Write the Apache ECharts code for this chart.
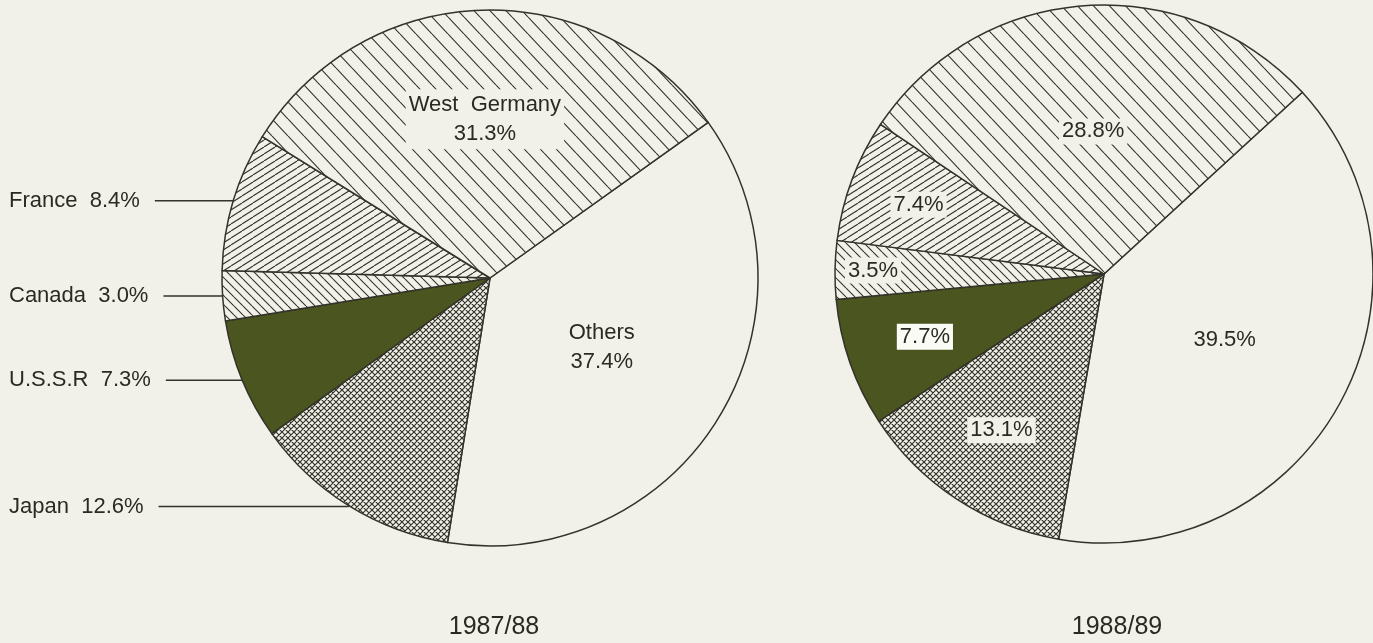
<!DOCTYPE html>
<html>
<head>
<meta charset="utf-8">
<title>Shares 1987/88 and 1988/89</title>
<script src="https://cdn.jsdelivr.net/npm/echarts@6/dist/echarts.min.js"></script>
<style>
  html, body { margin: 0; padding: 0; background: #f1f1ea; }
  #main { width: 1373px; height: 643px; }
</style>
</head>
<body>
<div id="main"></div>
<script>
// slices go clockwise from the Others / West Germany border
var categories = ['Others', 'Japan', 'U.S.S.R', 'Canada', 'France', 'West Germany'];
var share8788 = [37.4, 12.6, 7.3, 3.0, 8.4, 31.3];
var share8889 = [39.5, 13.1, 7.7, 3.5, 7.4, 28.8];
var yearLabels = ['1987/88', '1988/89'];

var BG = '#f1f1ea';
var INK = '#333329';
var TEXT = '#2a2a22';
var OLIVE = '#4a5520';
var FONT = '"Liberation Sans", Arial, sans-serif';

// small tiles for the hatching
function hatch(w, h, kind, lw) {
  var c = document.createElement('canvas');
  c.width = w;
  c.height = h;
  var ctx = c.getContext('2d');
  ctx.fillStyle = BG;
  ctx.fillRect(0, 0, w, h);
  ctx.strokeStyle = INK;
  ctx.lineWidth = lw || 1;
  ctx.beginPath();
  for (var k = -1; k <= 1; k++) {
    if (kind === 'back' || kind === 'cross') {
      ctx.moveTo(k * w, 0);
      ctx.lineTo(k * w + w, h);
    }
    if (kind === 'fwd' || kind === 'cross') {
      ctx.moveTo(k * w, h);
      ctx.lineTo(k * w + w, 0);
    }
  }
  ctx.stroke();
  return { image: c, repeat: 'repeat' };
}

var fills = [
  BG,                          // Others
  hatch(6, 6, 'cross', 1.2),   // Japan
  OLIVE,                       // U.S.S.R
  hatch(9, 9, 'back', 1.1),    // Canada
  hatch(11, 7, 'fwd', 1.1),    // France
  hatch(16, 17, 'back', 1.1)   // West Germany
];

var leftCenter = [490, 278];
var rightCenter = [1104, 274];
// where the inside labels sit, as a part of the radius (0.5 is the default)
var leftLabelRadius = [0.48, null, null, null, null, 0.58];
var rightLabelRadius = [0.5, 0.68, 0.69, 0.84, 0.72, 0.52];

function moveLabel(center, ratios) {
  return function (params) {
    var f = ratios[params.dataIndex];
    if (f == null) return {};
    var r = params.labelRect;
    var lx = r.x + r.width / 2;
    var ly = r.y + r.height / 2;
    var k = f / 0.5;
    return {
      x: center[0] + (lx - center[0]) * k,
      y: center[1] + (ly - center[1]) * k
    };
  };
}

var outsideLeft = ['Japan', 'U.S.S.R', 'Canada', 'France'];

var leftData = categories.map(function (name, i) {
  var item = { name: name, value: share8788[i], itemStyle: { color: fills[i] } };
  if (outsideLeft.indexOf(name) < 0) {
    item.label = {
      position: 'inside',
      lineHeight: 29,
      backgroundColor: i === 0 ? 'transparent' : BG,
      padding: [1, 3],
      formatter: function (p) {
        return p.name.replace(' ', '  ') + '\n' + p.value.toFixed(1) + '%';
      }
    };
  }
  return item;
});

var rightData = categories.map(function (name, i) {
  return {
    name: name,
    value: share8889[i],
    itemStyle: { color: fills[i] },
    label: {
      backgroundColor: name === 'U.S.S.R' ? '#fbfbf6' : (i === 0 ? 'transparent' : BG)
    }
  };
});

var chart = echarts.init(document.getElementById('main'));
var option = {
  backgroundColor: BG,
  animation: false,
  graphic: yearLabels.map(function (t, i) {
    return {
      type: 'text',
      x: i === 0 ? 494 : 1117,
      y: 627,
      style: {
        text: t,
        fill: TEXT,
        fontSize: 25,
        fontFamily: FONT,
        align: 'center',
        textAlign: 'center',
        verticalAlign: 'middle',
        textVerticalAlign: 'middle'
      }
    };
  }),
  series: [{
    name: yearLabels[0],
    type: 'pie',
    center: leftCenter,
    radius: 268,
    startAngle: 35.5,
    clockwise: true,
    avoidLabelOverlap: true,
    emphasis: { disabled: true },
    itemStyle: { borderColor: INK, borderWidth: 1.5 },
    label: {
      position: 'outside',
      alignTo: 'edge',
      edgeDistance: 9,
      distanceToLabelLine: 15,
      fontFamily: FONT,
      fontSize: 22,
      color: TEXT,
      formatter: function (p) {
        return p.name + '  ' + p.value.toFixed(1) + '%';
      }
    },
    labelLine: {
      show: true,
      length: 1,
      length2: 1,
      lineStyle: { color: INK, width: 1.5 }
    },
    labelLayout: moveLabel(leftCenter, leftLabelRadius),
    data: leftData
  }, {
    name: yearLabels[1],
    type: 'pie',
    center: rightCenter,
    radius: 269,
    startAngle: 42.5,
    clockwise: true,
    emphasis: { disabled: true },
    itemStyle: { borderColor: INK, borderWidth: 1.5 },
    label: {
      position: 'inside',
      fontFamily: FONT,
      fontSize: 22,
      color: TEXT,
      padding: [2, 3],
      formatter: function (p) {
        return p.value.toFixed(1) + '%';
      }
    },
    labelLine: { show: false },
    labelLayout: moveLabel(rightCenter, rightLabelRadius),
    data: rightData
  }]
};
chart.setOption(option);
</script>
</body>
</html>
